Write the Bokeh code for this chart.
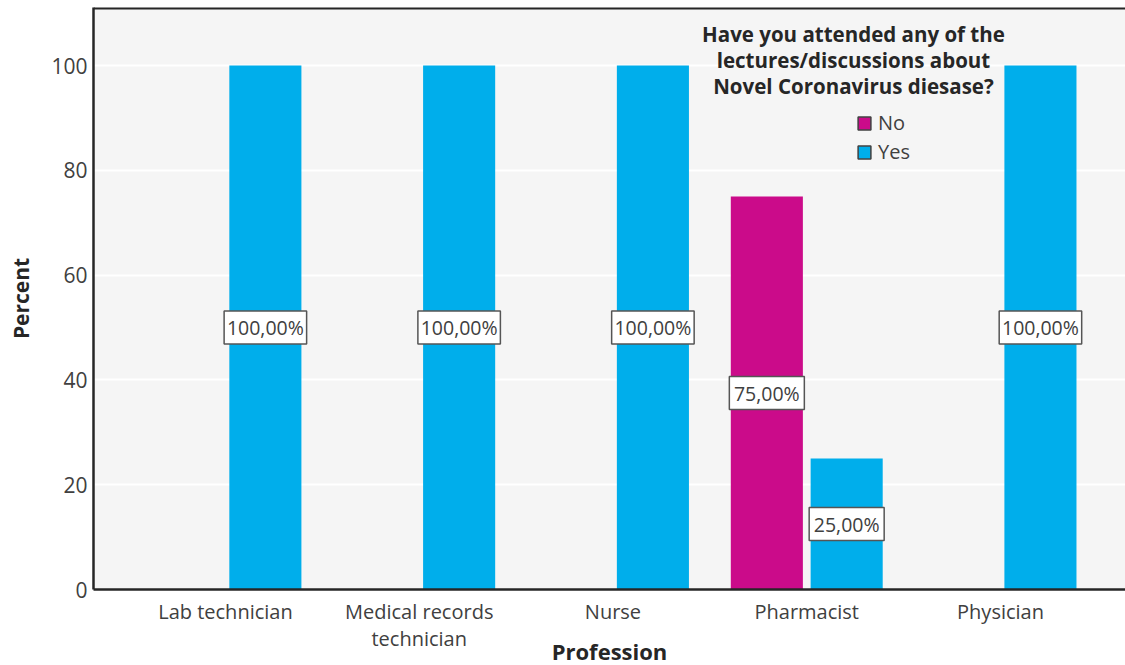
from bokeh.plotting import figure
from bokeh.models import (ColumnDataSource, Range1d, FixedTicker, Legend, LegendItem,
                          Label, Span)
from bokeh.core.properties import value
from bokeh.embed import file_html
from bokeh.resources import INLINE

# ---- data ----
professions = ["Lab technician", "Medical records\ntechnician", "Nurse", "Pharmacist", "Physician"]
answers = ["No", "Yes"]
no_pct = [0, 0, 0, 75, 0]
yes_pct = [100, 100, 100, 25, 100]
y_ticks = [0, 20, 40, 60, 80, 100]
legend_title = ["Have you attended any of the",
                "lectures/discussions about",
                "Novel Coronavirus diesase?"]
x_title = "Profession"
y_title = "Percent"

# ---- styles ----
colors = {"No": "#cb0b8a", "Yes": "#00aeeb"}
FONT = "Open Sans"
BAR_W = 0.372
OFF = {"No": -0.206, "Yes": 0.206}
X_START, X_END = -0.681, 4.645
Y_END = 111.07

p = figure(frame_width=1032, frame_height=582, output_backend="svg", toolbar_location=None,
           x_range=Range1d(X_START, X_END), y_range=Range1d(0, Y_END),
           min_border_left=93, min_border_right=0, min_border_top=7, min_border_bottom=76)
p.background_fill_color = "#f5f5f5"
p.border_fill_color = "white"
p.outline_line_color = None

xs, tops, cols, labs, lys, bws = [], [], [], [], [], []
for i, (n, y) in enumerate(zip(no_pct, yes_pct)):
    for ans, val in zip(answers, (n, y)):
        if val > 0:
            xs.append(i + OFF[ans])
            tops.append(val)
            cols.append(colors[ans])
            txt = f"{val:.2f}".replace(".", ",") + "%"
            labs.append(txt)
            lys.append(val / 2)
            bws.append(7.5 * len(txt) + 30)

src = ColumnDataSource(dict(x=xs, top=tops, color=cols, label=labs, ly=lys, bw=bws))

p.vbar(x="x", top="top", width=BAR_W, bottom=0, fill_color="color", line_color=None, source=src)
p.rect(x="x", y="ly", width="bw", width_units="screen", height=33, height_units="screen",
       fill_color="white", line_color="#555555", line_width=1.5, source=src)
p.text(x="x", y="ly", text="label", text_align="center", text_baseline="middle",
       text_font=value(FONT), text_font_size="19.5px", text_color="#404040", source=src)

# top frame line
p.add_layout(Span(location=Y_END - 0.15, dimension="width", line_color="#262626", line_width=2.5))

# grid & axes
p.xgrid.visible = False
p.ygrid.grid_line_color = "white"
p.ygrid.grid_line_width = 2
p.yaxis.ticker = FixedTicker(ticks=y_ticks)
p.xaxis.ticker = FixedTicker(ticks=list(range(len(professions))))
p.xaxis.major_label_overrides = {i: name for i, name in enumerate(professions)}

for ax in (p.xaxis, p.yaxis):
    ax.axis_line_color = "#262626"
    ax.axis_line_width = 2.5
    ax.major_tick_line_color = None
    ax.minor_tick_line_color = None
    ax.major_label_text_font = FONT
    ax.major_label_text_color = "#404040"
    ax.axis_label_text_font = FONT
    ax.axis_label_text_font_style = "bold"
    ax.axis_label_text_color = "#262626"

p.yaxis.major_label_text_font_size = "21px"
p.yaxis.major_label_standoff = 0
p.yaxis.axis_label = y_title
p.yaxis.axis_label_text_font_size = "21px"
p.yaxis.axis_label_standoff = 13
p.xaxis.major_label_text_font_size = "20px"
p.xaxis.major_label_standoff = 2
p.xaxis.major_label_text_line_height = 1.0
p.xaxis.axis_label = x_title
p.xaxis.axis_label_text_font_size = "22px"
p.xaxis.axis_label_standoff = -19

# legend title (centered, multi-line)
title_x = 3.241
title_ys = [106.1, 101.1, 96.0]
for line, ty in zip(legend_title, title_ys):
    p.add_layout(Label(x=title_x, y=ty, text=line, text_align="center", text_baseline="middle",
                       text_font=FONT, text_font_style="bold", text_font_size="20.5px",
                       text_color="#262626"))

# legend (swatches with a dark border, as in the original)
nan = float("nan")
dummies = []
for ans in answers:
    r = p.quad(left=[nan], right=[nan], top=[nan], bottom=[nan], fill_color=colors[ans],
               line_color="#404040", line_width=1.5)
    dummies.append(r)
legend = Legend(items=[LegendItem(label=a, renderers=[r]) for a, r in zip(answers, dummies)],
                location=(763, 424), padding=0, margin=0, border_line_color=None,
                background_fill_alpha=0, glyph_width=16, glyph_height=16, label_height=24,
                label_standoff=6, spacing=2, label_text_font=FONT, label_text_font_size="20px",
                label_text_color="#404040")
p.add_layout(legend)

open("out.html", "w").write(file_html(p, INLINE))
